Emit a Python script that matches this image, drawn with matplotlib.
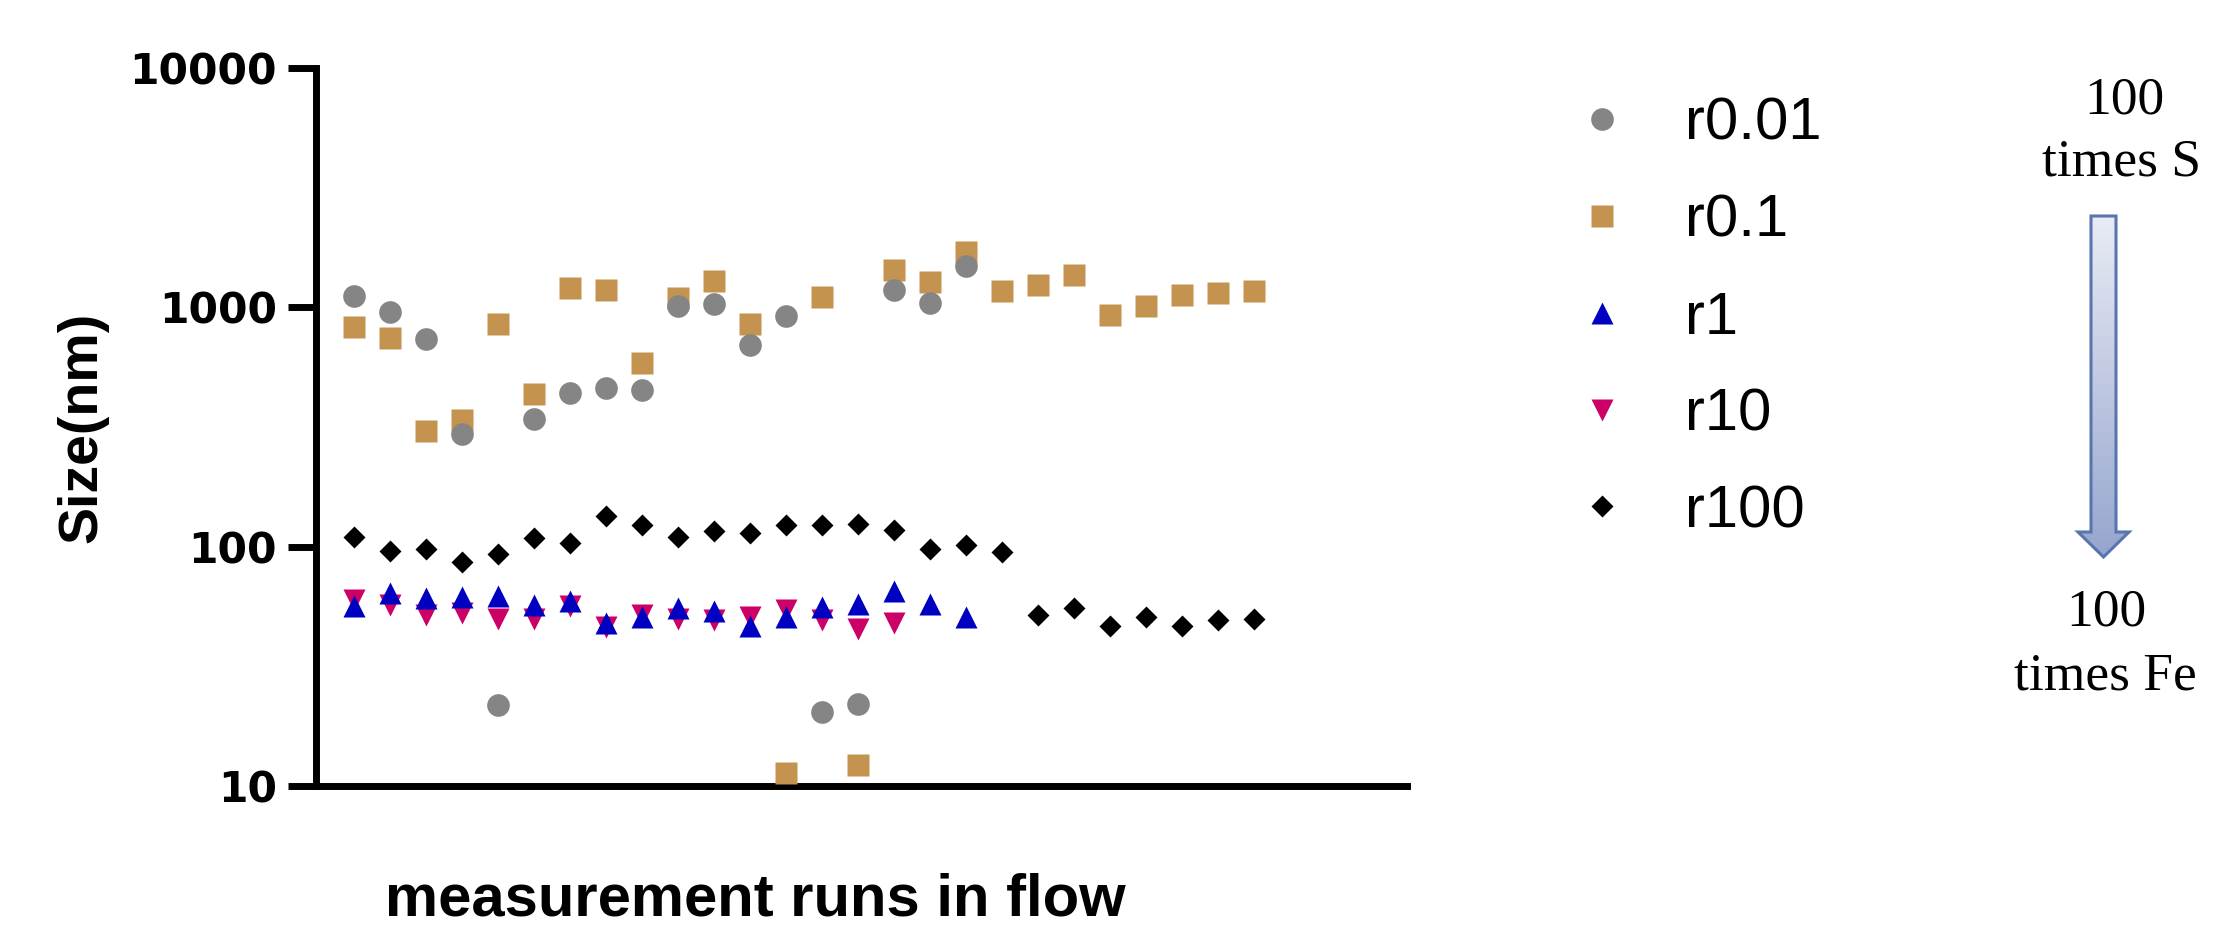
import numpy as np
import matplotlib
matplotlib.use("Agg")
import matplotlib.pyplot as plt
from matplotlib.patches import Polygon
from matplotlib.ticker import FixedLocator, NullLocator, FixedFormatter

r001 = [1115, 953, 735, 295, 21.7, 340, 438, 461, 453, 1012, 1036, 694, 920,
        20.4, 22.0, 1181, 1046, 1488]
r01 = [830, 745, 304, 337, 849, 436, 1200, 1181, 588, 1090, 1288, 849, 11.3,
       1108, 12.2, 1428, 1272, 1698, 1166, 1236, 1370, 932, 1016, 1130, 1147, 1166]
r1 = [56.4, 64, 61.1, 61.4, 62.5, 57, 59.3, 48.2, 51, 55.4, 54.1, 46.7, 51,
      55.7, 57.8, 65.1, 57.5, 50.7]
r10 = [59.7, 57.2, 51.8, 52.6, 49.7, 50.1, 56.6, 46.0, 51.7, 49.8, 49.6, 50.8,
       54.6, 49.2, 45.1, 48.2]
r100 = [109.5, 96.2, 97.5, 86.3, 92.9, 108.7, 103.9, 134, 123.6, 110.1, 116.3,
        113.7, 123.6, 123.6, 124.5, 117.8, 97.8, 101.3, 95.0, 51.8, 55.3, 46.8,
        50.7, 46.5, 49.5, 49.8]

labels = ["r0.01", "r0.1", "r1", "r10", "r100"]
yticks = [10, 100, 1000, 10000]
ytick_labels = ["10", "100", "1000", "10000"]

W, H = 2233, 925
fig = plt.figure(figsize=(W / 100, H / 100), dpi=100)

# main axes placed in pixel terms
x0, x1, ytop, ybot = 316, 1407, 68, 786
ax = fig.add_axes([x0 / W, 1 - ybot / H, (x1 - x0) / W, (ybot - ytop) / H])

ms = 16.3
ax.plot(np.arange(1, len(r001) + 1), r001, ls="none", marker="o", ms=ms,
        color="#858585", mec="none", zorder=4, label=labels[0])
ax.plot(np.arange(1, len(r01) + 1), r01, ls="none", marker="s", ms=ms,
        color="#C4934F", mec="none", zorder=3, label=labels[1])
ax.plot(np.arange(1, len(r1) + 1), r1, ls="none", marker="^", ms=ms,
        color="#0000C0", mec="none", zorder=4, label=labels[2])
ax.plot(np.arange(1, len(r10) + 1), r10, ls="none", marker="v", ms=ms,
        color="#CC0066", mec="none", zorder=3, label=labels[3])
ax.plot(np.arange(1, len(r100) + 1), r100, ls="none", marker="D", ms=11.2,
        color="black", mec="none", zorder=4, label=labels[4])

ax.set_yscale("log")
ax.set_ylim(10, 10000)
ax.set_xlim(-0.056, 30.25)

ax.yaxis.set_major_locator(FixedLocator(yticks))
ax.yaxis.set_major_formatter(FixedFormatter(ytick_labels))
ax.yaxis.set_minor_locator(NullLocator())
ax.xaxis.set_major_locator(NullLocator())
ax.xaxis.set_minor_locator(NullLocator())

for s in ["top", "right"]:
    ax.spines[s].set_visible(False)
for s in ["left", "bottom"]:
    ax.spines[s].set_linewidth(5)
    ax.spines[s].set_capstyle("projecting")

ax.tick_params(axis="y", length=20, width=5, pad=8)
for t in ax.get_yticklabels():
    t.set_fontfamily("DejaVu Sans")
    t.set_fontweight("heavy")
    t.set_fontsize(30.5)

ax.set_ylabel("Size(nm)", fontfamily="Liberation Sans", fontweight="bold",
              fontsize=40)
ax.yaxis.set_label_coords(-0.19, 0.5)
ax.set_xlabel("measurement runs in flow", fontfamily="Liberation Sans",
              fontweight="bold", fontsize=43)
ax.xaxis.set_label_coords(0.403, -0.12)

leg = ax.legend(loc="upper left", bbox_to_anchor=(1572 / W, 1 - 97 / H),
                bbox_transform=fig.transFigure, frameon=False, numpoints=1,
                handlelength=1.0, handletextpad=0.9, labelspacing=0.70,
                borderpad=0, borderaxespad=0,
                prop={"family": "Liberation Sans", "size": 43})

# overlay in pixel coordinates for the arrow annotation
ov = fig.add_axes([0, 0, 1, 1], facecolor="none")
ov.set_xlim(0, W)
ov.set_ylim(H, 0)
ov.axis("off")

arrow_pts = [(2091, 216), (2116, 216), (2116, 532), (2129, 532), (2103.5, 557),
             (2078, 532), (2091, 532)]
arrow = Polygon(arrow_pts, closed=True, facecolor="none", edgecolor="#5A75AE",
                linewidth=2.2, zorder=3)
ov.add_patch(arrow)
grad = np.linspace(0, 1, 256)[:, None]
c_top = np.array([233, 236, 245]) / 255
c_bot = np.array([150, 165, 206]) / 255
img = c_top + (c_bot - c_top) * grad[..., None]
img = np.repeat(img, 2, axis=1)
im = ov.imshow(img, extent=[2078, 2129, 557, 216], aspect="auto",
               interpolation="bilinear", zorder=2)
clip = Polygon(arrow_pts, closed=True, transform=ov.transData)
im.set_clip_path(clip)

serif = dict(fontfamily="Liberation Serif", fontsize=38.5, ha="center",
             va="baseline", color="black")
ov.text(2124, 113, "100", **serif)
ov.text(2122, 176, "times S", **serif)
ov.text(2106, 625, "100", **serif)
ov.text(2105, 690, "times Fe", **serif)

fig.savefig("out.png", dpi=100, facecolor="white")
